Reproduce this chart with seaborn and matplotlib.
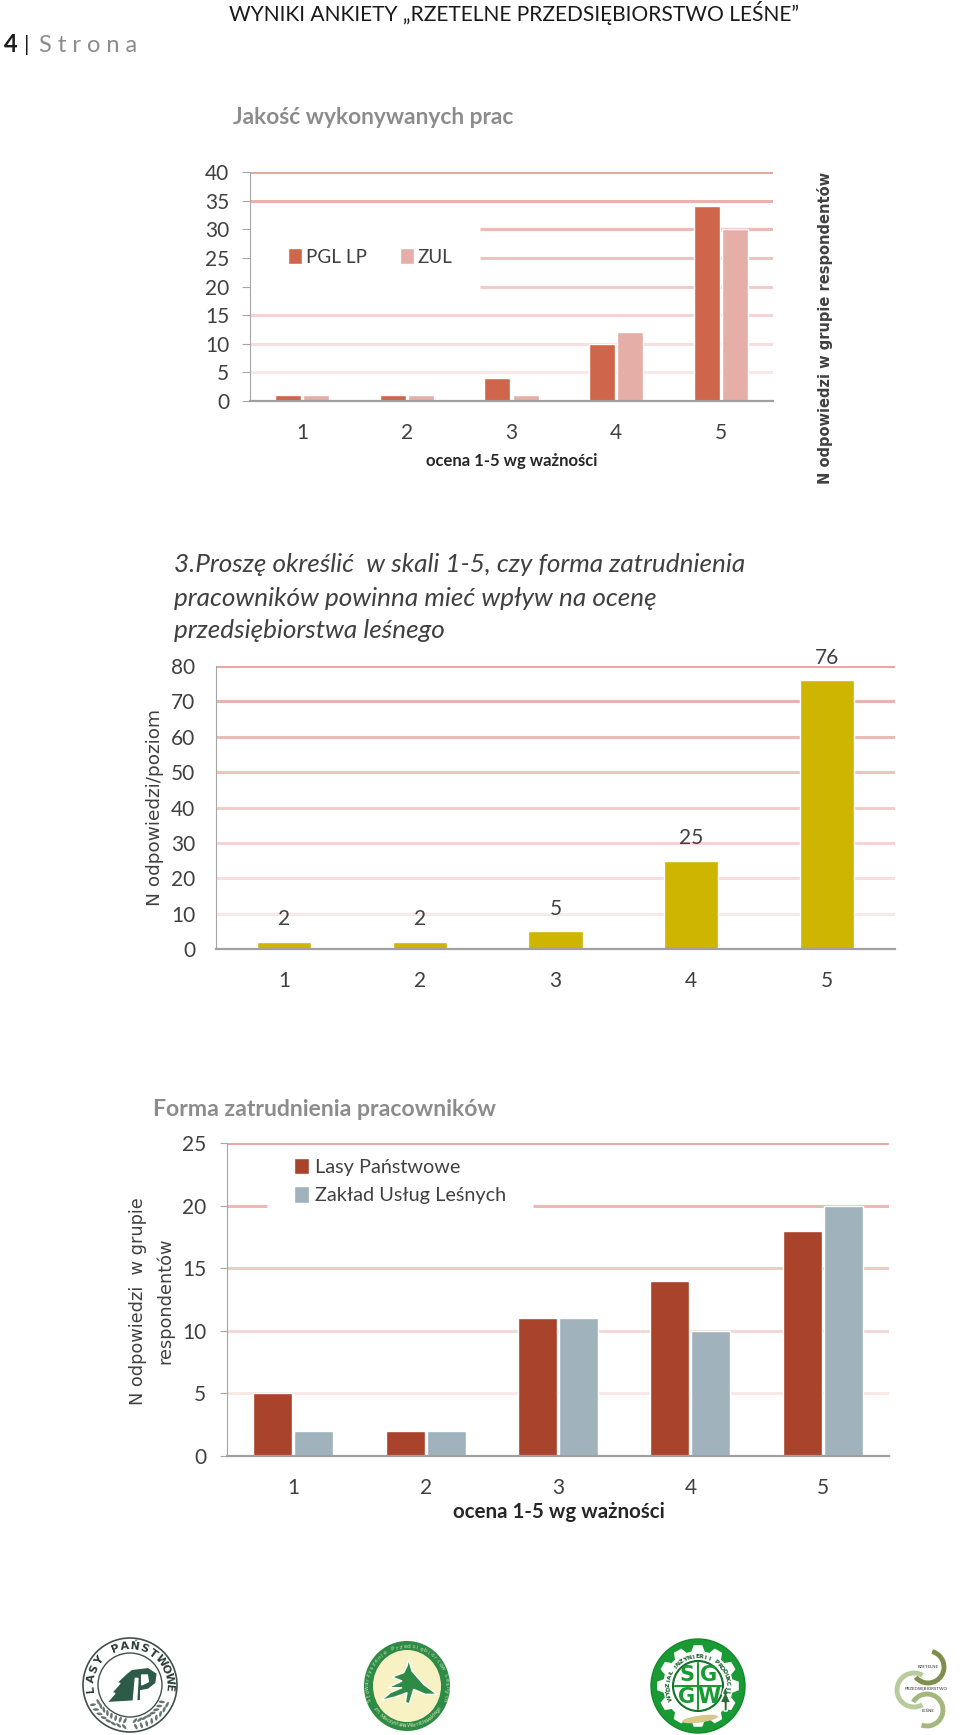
import numpy as np
import pandas as pd
import matplotlib
matplotlib.use("Agg")
import matplotlib.pyplot as plt
from matplotlib.patches import Ellipse, Polygon, Arc
import seaborn as sns

W, H = 960, 1735

ratings = ["1", "2", "3", "4", "5"]

# chart 1
quality_pgl = [1, 1, 4, 10, 34]
quality_zul = [1, 1, 1, 12, 30]
quality_ticks = [0, 5, 10, 15, 20, 25, 30, 35, 40]

# chart 2
question_n = [2, 2, 5, 25, 76]
question_ticks = [0, 10, 20, 30, 40, 50, 60, 70, 80]

# chart 3
forma_lasy = [5, 2, 11, 14, 18]
forma_zul = [2, 2, 11, 10, 20]
forma_ticks = [0, 5, 10, 15, 20, 25]

sns.set_theme(style="white")
plt.rcParams["font.family"] = ["Lato", "DejaVu Sans"]

fig = plt.figure(figsize=(W / 100, H / 100), dpi=100)
fig.patch.set_facecolor("white")


def make_axes(left, right, top, bottom):
    return fig.add_axes([left / W, 1 - bottom / H, (right - left) / W, (bottom - top) / H])


def ftext(x, y, s, **kw):
    kw.setdefault("ha", "left")
    kw.setdefault("va", "center")
    fig.text(x / W, 1 - y / H, s, **kw)


def style_axes(ax, ticks, tick_len, pad):
    ax.set_ylim(ticks[0], ticks[-1])
    ax.set_yticks(ticks)
    ax.set_xlabel("")
    ax.set_ylabel("")
    sns.despine(ax=ax, top=True, right=True)
    ax.spines["left"].set_color("#a6a6a6")
    ax.spines["left"].set_linewidth(0.8)
    ax.spines["bottom"].set_color("#a0a0a0")
    ax.spines["bottom"].set_linewidth(1.6)
    ax.tick_params(axis="y", length=tick_len, width=0.8, color="#a6a6a6", labelsize=15,
                   labelcolor="#404040", pad=pad, left=True)
    ax.tick_params(axis="x", length=0, labelsize=15, labelcolor="#404040", pad=16)
    ax.set_axisbelow(True)


def grid(ax, ticks, gaps=None):
    # lines fade from top to bottom like in the original
    gaps = gaps or {}
    n = len(ticks) - 1
    c0 = np.array(matplotlib.colors.to_rgb("#f8e8e6"))
    c1 = np.array(matplotlib.colors.to_rgb("#e8a9a3"))
    for i, t in enumerate(ticks[1:]):
        col = c0 + (c1 - c0) * i / max(n - 1, 1)
        for a, b in gaps.get(t, [(0, 1)]):
            ax.axhline(t, xmin=a, xmax=b, color=col, lw=2.2, zorder=0, solid_capstyle="butt")


# --- header
ftext(229, 13, "WYNIKI ANKIETY „RZETELNE PRZEDSIĘBIORSTWO LEŚNE”", fontsize=15.1, color="#1a1a1a")
ftext(4, 45, "4", fontsize=17, fontweight="bold", color="#1a1a1a")
ftext(24, 45, "|", fontsize=16, color="#1a1a1a")
ftext(39, 45, "S t r o n a", fontsize=17, color="#8c8c8c")

# --- chart 1
ax1 = make_axes(250, 773, 172, 401)
df1 = pd.DataFrame({
    "ocena": ratings * 2,
    "n": quality_pgl + quality_zul,
    "grupa": ["PGL LP"] * 5 + ["ZUL"] * 5,
})
grid(ax1, quality_ticks, {20: [(0.44, 1)], 25: [(0.44, 1)], 30: [(0.44, 1)]})
sns.barplot(data=df1, x="ocena", y="n", hue="grupa", palette=["#cf654b", "#e5aea6"],
            width=0.54, gap=0.08, saturation=1, ax=ax1, zorder=2)
style_axes(ax1, quality_ticks, 6, 9)
ax1.legend(loc="center left", bbox_to_anchor=(288 / W, 1 - 257 / H), bbox_transform=fig.transFigure,
           ncol=2, frameon=False, fontsize=13.6, handlelength=0.72, handleheight=0.95, handletextpad=0.23,
           columnspacing=1.75, labelcolor="#404040", borderpad=0, borderaxespad=0)
ftext(233, 117, "Jakość wykonywanych prac", fontsize=16.4, fontweight="bold", color="#8c8c8c")
ftext(512, 461, "ocena 1-5 wg ważności", ha="center", fontsize=12, fontweight="bold", color="#262626")
ftext(825, 328, "N odpowiedzi w grupie respondentów", rotation=90, ha="center", fontsize=10.5,
      fontweight="bold", color="#404040", family="DejaVu Sans")

# --- chart 2
ax2 = make_axes(216, 895, 666, 949)
df2 = pd.DataFrame({"ocena": ratings, "n": question_n})
grid(ax2, question_ticks)
sns.barplot(data=df2, x="ocena", y="n", color="#cdb500", width=0.4, saturation=1, ax=ax2, zorder=2)
style_axes(ax2, question_ticks, 0, 15)
ax2.bar_label(ax2.containers[0], labels=[str(v) for v in question_n], fontsize=15, color="#404040", padding=9,
              clip_on=False)
ftext(174, 565, "3.Proszę określić  w skali 1-5, czy forma zatrudnienia", fontsize=18.8, style="italic", color="#404040")
ftext(174, 598, "pracowników powinna mieć wpływ na ocenę", fontsize=18.8, style="italic", color="#404040")
ftext(174, 631, "przedsiębiorstwa leśnego", fontsize=18.8, style="italic", color="#404040")
ftext(155, 807, "N odpowiedzi/poziom", rotation=90, ha="center", fontsize=13.3, color="#404040", family="DejaVu Sans")

# --- chart 3
ax3 = make_axes(227, 889, 1143, 1456)
df3 = pd.DataFrame({
    "ocena": ratings * 2,
    "n": forma_lasy + forma_zul,
    "grupa": ["Lasy Państwowe"] * 5 + ["Zakład Usług Leśnych"] * 5,
})
grid(ax3, forma_ticks, {20: [(0, 0.06), (0.462, 1)]})
sns.barplot(data=df3, x="ocena", y="n", hue="grupa", palette=["#a9432b", "#a0b2bc"],
            width=0.62, gap=0.05, saturation=1, ax=ax3, zorder=2)
style_axes(ax3, forma_ticks, 5, 10)
ax3.legend(loc="upper left", bbox_to_anchor=(294 / W, 1 - 1158 / H), bbox_transform=fig.transFigure,
           frameon=False, fontsize=14.3, handlelength=0.75, handleheight=0.9, handletextpad=0.3,
           labelspacing=0.5, labelcolor="#404040", borderpad=0, borderaxespad=0)
ftext(153, 1110, "Forma zatrudnienia pracowników", fontsize=16.6, fontweight="bold", color="#8c8c8c")
ftext(559, 1512, "ocena 1-5 wg ważności", ha="center", fontsize=14.8, fontweight="bold", color="#262626")
ftext(138, 1301, "N odpowiedzi  w grupie", rotation=90, ha="center", fontsize=12.8, color="#404040", family="DejaVu Sans")
ftext(165, 1301, "respondentów", rotation=90, ha="center", fontsize=12.8, color="#404040", family="DejaVu Sans")

# --- logos at the bottom, page pixels
lg = fig.add_axes([0, 0, 1, 1], zorder=5)
lg.set_xlim(0, W)
lg.set_ylim(H, 0)
lg.axis("off")
lg.patch.set_alpha(0)


def arc_text(cx, cy, r, s, start, end, bottom=False, **kw):
    # letters along a circle, angles in degrees clockwise from the top
    for ch, a in zip(s, np.linspace(start, end, len(s))):
        t = np.radians(a)
        rot = 180 - a if bottom else -a
        lg.text(cx + r * np.sin(t), cy - r * np.cos(t), ch, rotation=rot, ha="center", va="center",
                rotation_mode="anchor", family="DejaVu Sans", **kw)


def shape(cx, cy, ox, oy, pts, **kw):
    lg.add_patch(Polygon([(cx + (x - ox) / 3, cy + (y - oy) / 3) for x, y in pts], **kw))


# Lasy Panstwowe
cx, cy = 130, 1685
lg.add_patch(Ellipse((cx, cy), 94, 94, fc="white", ec="#40504a", lw=1.2))
lg.add_patch(Ellipse((cx, cy), 64, 64, fc="white", ec="#40504a", lw=1))
arc_text(cx, cy, 39, "LASY PAŃSTWOWE", -95, 95, fontsize=8, fontweight="bold", color="#2a3a34")
shape(cx, cy, 180, 165, [(185, 118), (235, 112), (262, 130), (258, 160), (235, 178), (212, 182), (212, 212),
                         (110, 218), (135, 190), (125, 188), (150, 160), (140, 158), (170, 130)], fc="#2e5a48")
shape(cx, cy, 180, 165, [(196, 145), (204, 145), (200, 212), (190, 212)], fc="white")
shape(cx, cy, 180, 165, [(215, 135), (232, 135), (235, 155), (215, 165)], fc="white")
for a in np.linspace(118, 172, 8).tolist() + np.linspace(188, 242, 8).tolist():
    t = np.radians(a)
    for r, tilt in [(36, 35), (42, -35)]:
        lg.add_patch(Ellipse((cx + r * np.sin(t), cy - r * np.cos(t)), 6, 2.6, angle=90 - a + tilt,
                             fc="#66756f", ec="none"))

# Stowarzyszenie
cx, cy = 407, 1686
lg.add_patch(Ellipse((cx, cy), 86, 90, fc="#2e8b45", ec="none"))
lg.add_patch(Ellipse((cx, cy), 68, 72, fc="#f7f1c4", ec="none"))
shape(cx, cy, 165, 185, [(170, 105), (180, 140), (215, 180), (255, 210), (220, 210), (185, 195), (172, 238),
                         (160, 235), (165, 205), (130, 218), (88, 228), (115, 205), (150, 190), (108, 190),
                         (150, 170), (120, 158), (155, 145), (165, 125)], fc="#2e8b45")
arc_text(cx, cy, 39.5, "Stowarzyszenie Przedsiębiorców Leśnych", -110, 110, fontsize=4.2, color="#bfe0ae")
arc_text(cx, cy, 39.5, "im. Mieczysława Wierzchowskiego", 235, 125, bottom=True, fontsize=4.2, color="#bfe0ae")

# SGGW
cx, cy = 698, 1686
lg.add_patch(Ellipse((cx, cy), 94, 94, fc="#1a9a35", ec="#128a2a", lw=1))
teeth = []
for a in np.arange(0, 360, 30):
    for da, r in [(-11, 35), (-6, 41), (6, 41), (11, 35)]:
        t = np.radians(a + da)
        teeth.append((cx + r * np.sin(t), cy - r * np.cos(t)))
lg.add_patch(Polygon(teeth, fc="white", ec="none"))
lg.add_patch(Ellipse((cx, cy), 50, 50, fc="white", ec="#14702a", lw=1.5))
arc_text(cx, cy, 29.5, "WYDZIAŁ INŻYNIERII PRODUKCJI", -112, 100, fontsize=4.4, fontweight="bold", color="#14602a")
lg.plot([cx - 23, cx + 23], [cy, cy], color="#1a9a35", lw=1.5)
lg.plot([cx, cx], [cy - 23, cy + 23], color="#1a9a35", lw=1.5)
for x, y, ch in [(-11, -11, "S"), (11, -11, "G"), (-11, 11, "G"), (11, 11, "W")]:
    lg.text(cx + x, cy + y, ch, fontsize=15, fontweight="bold", color="#1a9a35", ha="center", va="center",
            family="DejaVu Sans")
lg.add_patch(Ellipse((cx + 2, cy + 33), 36, 7, angle=-8, fc="#d8c98a", ec="none"))
shape(cx, cy, 180, 165, [(262, 165), (272, 190), (267, 190), (278, 215), (268, 215), (268, 240), (258, 240),
                         (258, 215), (246, 215), (258, 190), (252, 190)], fc="#2e6a38")

# Rzetelne
lg.add_patch(Arc((928, 1667), 32, 32, theta1=-75, theta2=140, color="#7d8f4a", lw=3.5))
lg.add_patch(Arc((914, 1690), 34, 34, theta1=60, theta2=300, color="#b9ca9c", lw=3.5))
lg.add_patch(Arc((927, 1710), 32, 32, theta1=-150, theta2=110, color="#a4b87d", lw=3.5))
lg.text(928, 1667, "RZETELNE", fontsize=3.2, ha="center", va="center", color="#333333")
lg.text(926, 1689, "PRZEDSIĘBIORSTWO", fontsize=3.2, ha="center", va="center", color="#333333")
lg.text(928, 1711, "LEŚNE", fontsize=3.2, ha="center", va="center", color="#333333")

plt.savefig("out.png", dpi=100)
